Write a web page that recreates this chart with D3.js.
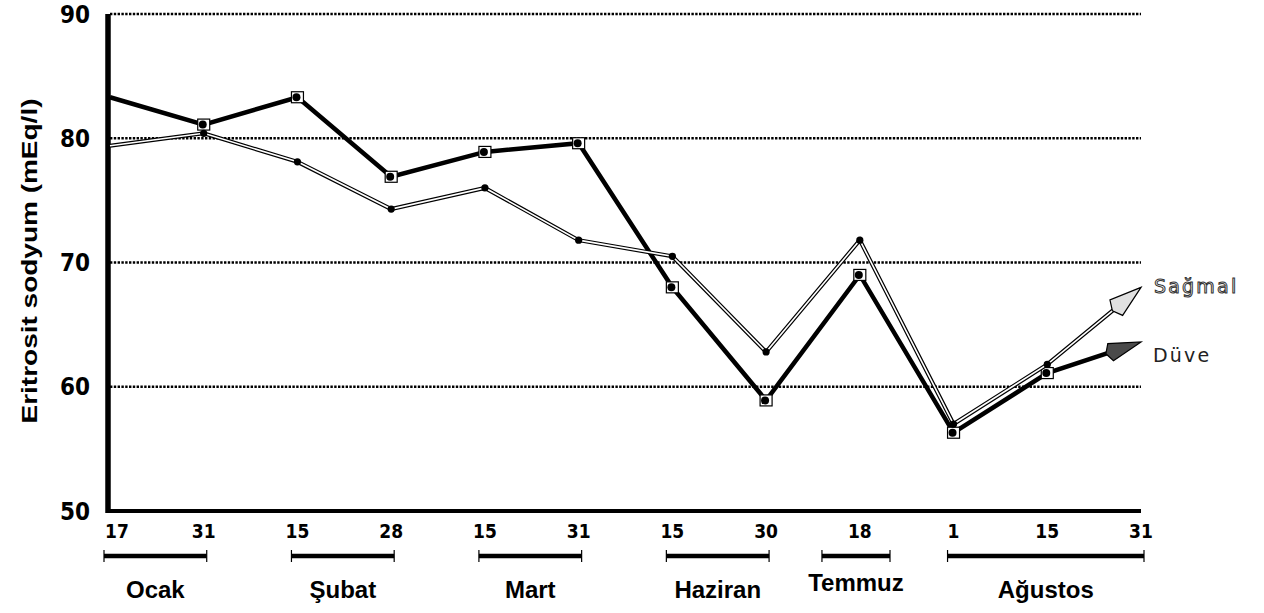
<!DOCTYPE html>
<html><head><meta charset="utf-8">
<script src="https://cdn.jsdelivr.net/npm/d3@7"></script>
<style>body{margin:0;background:#fff}svg{display:block}</style>
</head><body><svg id="c" width="1264" height="613"></svg>
<script>
const dayLabels = ["17","31","15","28","15","31","15","30","18","1","15","31"];
const duve   = [83.3, 81.1, 83.3, 76.9, 78.9, 79.6, 68.0, 58.9, 69.0, 56.3, 61.1, 63.6];
const sagmal = [79.4, 80.4, 78.1, 74.3, 76.0, 71.8, 70.5, 62.8, 71.8, 57.0, 61.8, 68.0];
const yTicks = [50, 60, 70, 80, 90];
const months = ["Ocak","Şubat","Mart","Haziran","Temmuz","Ağustos"];
const monthStart = [0, 2, 4, 6, 7.66, 9];
const monthEnd   = [1, 3, 5, 7, 8.29, 11];
const seriesNames = ["Sağmal","Düve"];

const svg = d3.select("#c");
const idx = d3.range(dayLabels.length);
const x = d3.scaleLinear().domain([0, 11]).range([110, 1141]);
const y = d3.scaleLinear().domain([50, 90]).range([511, 14]);
const narrow = "'DejaVu Sans Condensed','DejaVu Sans',sans-serif";
const sans = "'Liberation Sans',Arial,sans-serif";

// grid
svg.append("g").selectAll("line").data(yTicks.filter(v => v > 50)).join("line")
  .attr("x1", 110).attr("x2", 1141).attr("y1", d => y(d)).attr("y2", d => y(d))
  .attr("stroke", "#000").attr("stroke-width", 2.6).attr("stroke-dasharray", "2.4,1.4");

// axes
svg.append("line").attr("x1", x(0) - 2).attr("x2", x(0) - 2).attr("y1", y(90)).attr("y2", y(50) + 2)
  .attr("stroke", "#000").attr("stroke-width", 5.5);
svg.append("line").attr("x1", x(0) - 4).attr("x2", 1141).attr("y1", y(50)).attr("y2", y(50))
  .attr("stroke", "#000").attr("stroke-width", 4);

// y tick labels
svg.append("g").selectAll("text").data(yTicks).join("text")
  .attr("x", 90).attr("y", d => y(d)).attr("dy", "0.36em").attr("text-anchor", "end")
  .attr("font-family", narrow).attr("font-weight", "bold").attr("font-size", 24)
  .text(d => d);

// y axis title
svg.append("text").attr("transform", "translate(37,261) rotate(-90)")
  .attr("text-anchor", "middle").attr("font-family", sans).attr("font-weight", "bold")
  .attr("font-size", 22).attr("textLength", 325).attr("lengthAdjust", "spacingAndGlyphs")
  .text("Eritrosit sodyum (mEq/l)");

// x tick labels
svg.append("g").selectAll("text").data(idx).join("text")
  .attr("x", i => x(i) + (i === 0 ? 7 : 0)).attr("y", 538).attr("text-anchor", "middle")
  .attr("font-family", narrow).attr("font-weight", "bold").attr("font-size", 19)
  .text(i => dayLabels[i]);

// month brackets
const br = svg.append("g");
months.forEach((m, k) => {
  const x1 = x(monthStart[k]) - 6, x2 = x(monthEnd[k]) + 3;
  br.append("line").attr("x1", x1).attr("x2", x2).attr("y1", 556).attr("y2", 556)
    .attr("stroke", "#000").attr("stroke-width", 4.5);
  [x1, x2].forEach(xx => br.append("line").attr("x1", xx).attr("x2", xx)
    .attr("y1", 550).attr("y2", 562).attr("stroke", "#000").attr("stroke-width", 1.2));
  br.append("text").attr("x", (x1 + x2) / 2).attr("y", k === 4 ? 591 : 598)
    .attr("text-anchor", "middle").attr("font-family", sans).attr("font-weight", "bold")
    .attr("font-size", 24).text(m);
});

function drawSeries(vals, kind) {
  const pts = vals.map((v, i) => [x(i), y(v)]);
  const last = pts[pts.length - 1], prev = pts[pts.length - 2];
  const ang = Math.atan2(last[1] - prev[1], last[0] - prev[0]);
  const headLen = 32;
  const base = [last[0] - headLen * Math.cos(ang), last[1] - headLen * Math.sin(ang)];
  const linePts = pts.slice(0, -1).concat([base]);
  const g = svg.append("g");
  const path = d3.line();
  if (kind === "s") {
    g.append("path").attr("d", path(linePts)).attr("fill", "none").attr("stroke", "#000").attr("stroke-width", 4);
    g.append("path").attr("d", path(linePts)).attr("fill", "none").attr("stroke", "#fff").attr("stroke-width", 1.6);
  } else {
    g.append("path").attr("d", path(linePts)).attr("fill", "none").attr("stroke", "#000").attr("stroke-width", 4.5);
  }
  const w = kind === "s" ? 10 : 9;
  const px = -Math.sin(ang), py = Math.cos(ang);
  const back = [base[0] - 5 * Math.cos(ang), base[1] - 5 * Math.sin(ang)];
  const head = [last, [base[0] + w * px, base[1] + w * py], back, [base[0] - w * px, base[1] - w * py]];
  g.append("path").attr("d", "M" + head.map(p => p.join(",")).join("L") + "Z")
    .attr("fill", kind === "s" ? "#e0e0e0" : "#4a4a4a").attr("stroke", "#000").attr("stroke-width", 1.2);
  const mk = pts.slice(1, -1);
  if (kind === "s") {
    g.selectAll("circle").data(mk).join("circle").attr("cx", d => d[0]).attr("cy", d => d[1])
      .attr("r", 3.6).attr("fill", "#000");
  } else {
    g.selectAll("rect").data(mk).join("rect").attr("x", d => d[0] - 6).attr("y", d => d[1] - 5.5)
      .attr("width", 12).attr("height", 11).attr("fill", "#fff").attr("stroke", "#000").attr("stroke-width", 1.2);
    g.selectAll("circle").data(mk).join("circle").attr("cx", d => d[0] - 1).attr("cy", d => d[1])
      .attr("r", 4).attr("fill", "#000");
  }
  return last;
}

const lastD = drawSeries(duve, "d");
const lastS = drawSeries(sagmal, "s");

// series labels
svg.append("text").attr("x", lastS[0] + 13).attr("y", lastS[1] - 1).attr("dy", "0.35em")
  .attr("font-family", "'DejaVu Sans',sans-serif").attr("font-size", 19).attr("letter-spacing", 2.2)
  .attr("fill", "#fff").attr("stroke", "#333").attr("stroke-width", 1).text(seriesNames[0]);
svg.append("text").attr("x", lastD[0] + 12).attr("y", lastD[1] + 13).attr("dy", "0.35em")
  .attr("font-family", "'DejaVu Sans',sans-serif").attr("font-size", 19).attr("letter-spacing", 2.2)
  .attr("fill", "#222").text(seriesNames[1]);
</script></body></html>
